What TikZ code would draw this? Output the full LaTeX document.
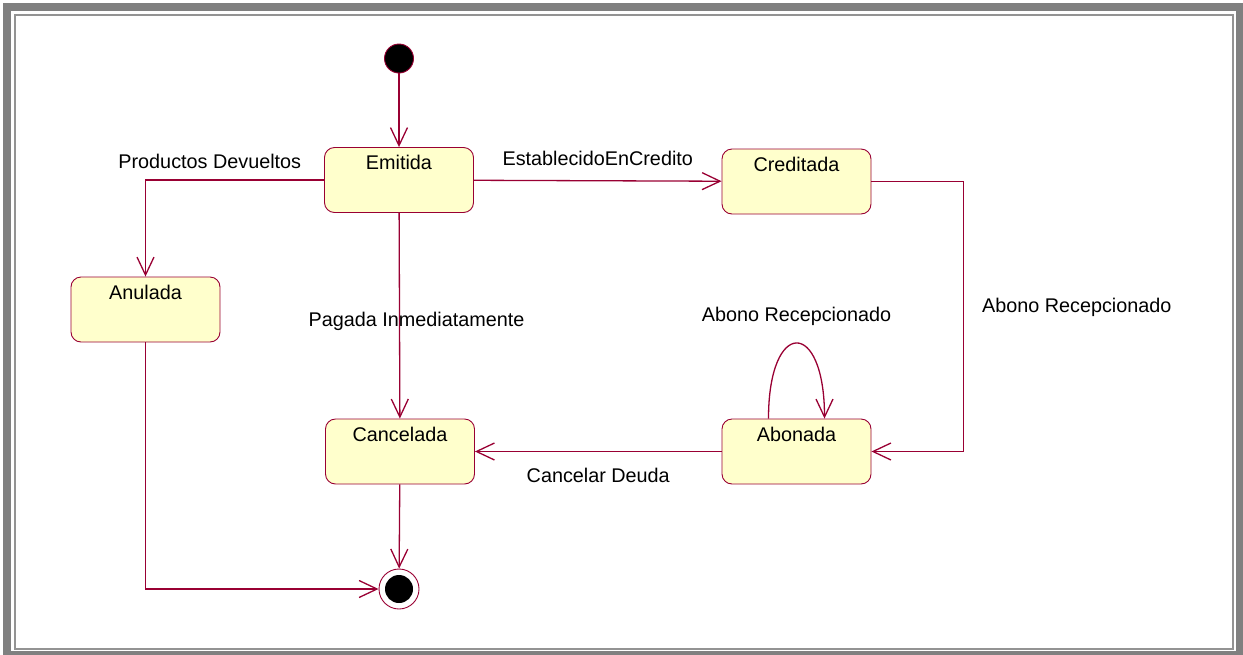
\documentclass[tikz,border=0pt]{standalone}
\usepackage{fontspec}
\setmainfont{Liberation Sans}
\usepackage{tikz}
\usetikzlibrary{
  arrows.meta,
  calc,
  positioning
}
\definecolor{rose}{HTML}{990033}
\definecolor{statefill}{HTML}{FFFFCC}
\definecolor{framegray}{HTML}{808080}

\begin{document}
\begin{tikzpicture}[x=1pt, y=-1pt]

\tikzset{
  statebox/.style={
    draw=rose,
    line width=0.9pt,
    fill=statefill,
    rounded corners=10pt,
    minimum width=149pt,
    minimum height=65pt,
    inner sep=2pt,
    text height=14pt,
    text depth=35pt
  },
  startstate/.style={
    draw=rose,
    circle,
    fill=black,
    line width=0.9pt,
    minimum size=29pt,
    inner sep=0pt
  },
  endstate/.style={
    draw=rose,
    circle,
    fill=white,
    line width=0.9pt,
    minimum size=40pt,
    inner sep=0pt,
    path picture={\fill[black] (path picture bounding box.center) circle (14pt);}
  },
  trans/.style={->, draw=rose, line width=1.3pt},
  trlabel/.style={anchor=base, inner sep=0pt},
  >={Straight Barb[length=18pt, width=17pt]},
  font=\fontsize{19.8pt}{24pt}\selectfont
}

% Frame
\useasboundingbox (0,0) rectangle (1243,654);
\draw[framegray, line width=8pt] (7,7) rectangle (1240,655);
\draw[framegray!85, line width=2pt] (14.5,14.5) rectangle (1233,649);

% Nodes states
\node[startstate] (start)     at (399,  58.5) {};
\node[statebox]   (emitida)   at (399,  180)  {Emitida};
\node[statebox]   (creditada) at (796.5,181.5) {Creditada};
\node[statebox]   (anulada)   at (145.5,309.5) {Anulada};
\node[statebox]   (cancelada) at (400,  451.5) {Cancelada};
\node[statebox]   (abonada)   at (796.5,451.5) {Abonada};
\node[endstate]   (final)     at (399,  589)  {};

% Arrows Emitida
\draw[trans] (start) -- (emitida);
\draw[trans] (emitida.west) -| node[trlabel, pos=0.32, yshift=12pt] (ldev) {Productos Devueltos} (anulada);
\draw[trans] (emitida) -- node[trlabel, pos=0.5, yshift=15pt] (lcred) {EstablecidoEnCredito} (creditada);
\draw[trans] (emitida) -- node[trlabel, pos=0.55, xshift=17pt] (lpag) {Pagada Inmediatamente} (cancelada);

% Arrows Creditada / Abonada
\draw[trans] (creditada.east) -- ++(92,0) |- node[trlabel, anchor=base west, pos=0.2435, xshift=18pt] (labr) {Abono Recepcionado} (abonada.east);

\draw[trans]
($(abonada.north)+(-28,0)$)
to[out=90, in=90, looseness=4.6]
node[trlabel, pos=0.5, yshift=22pt] (lloop) {Abono Recepcionado}
($(abonada.north)+(28,0)$);

\draw[trans] (abonada) -- node[trlabel, pos=0.5, yshift=-30.5pt] (lcan) {Cancelar Deuda} (cancelada);

% Arrows final
\draw[trans] (cancelada) -- (final);
\draw[trans] (anulada) |- (final);

\end{tikzpicture}
\end{document}
